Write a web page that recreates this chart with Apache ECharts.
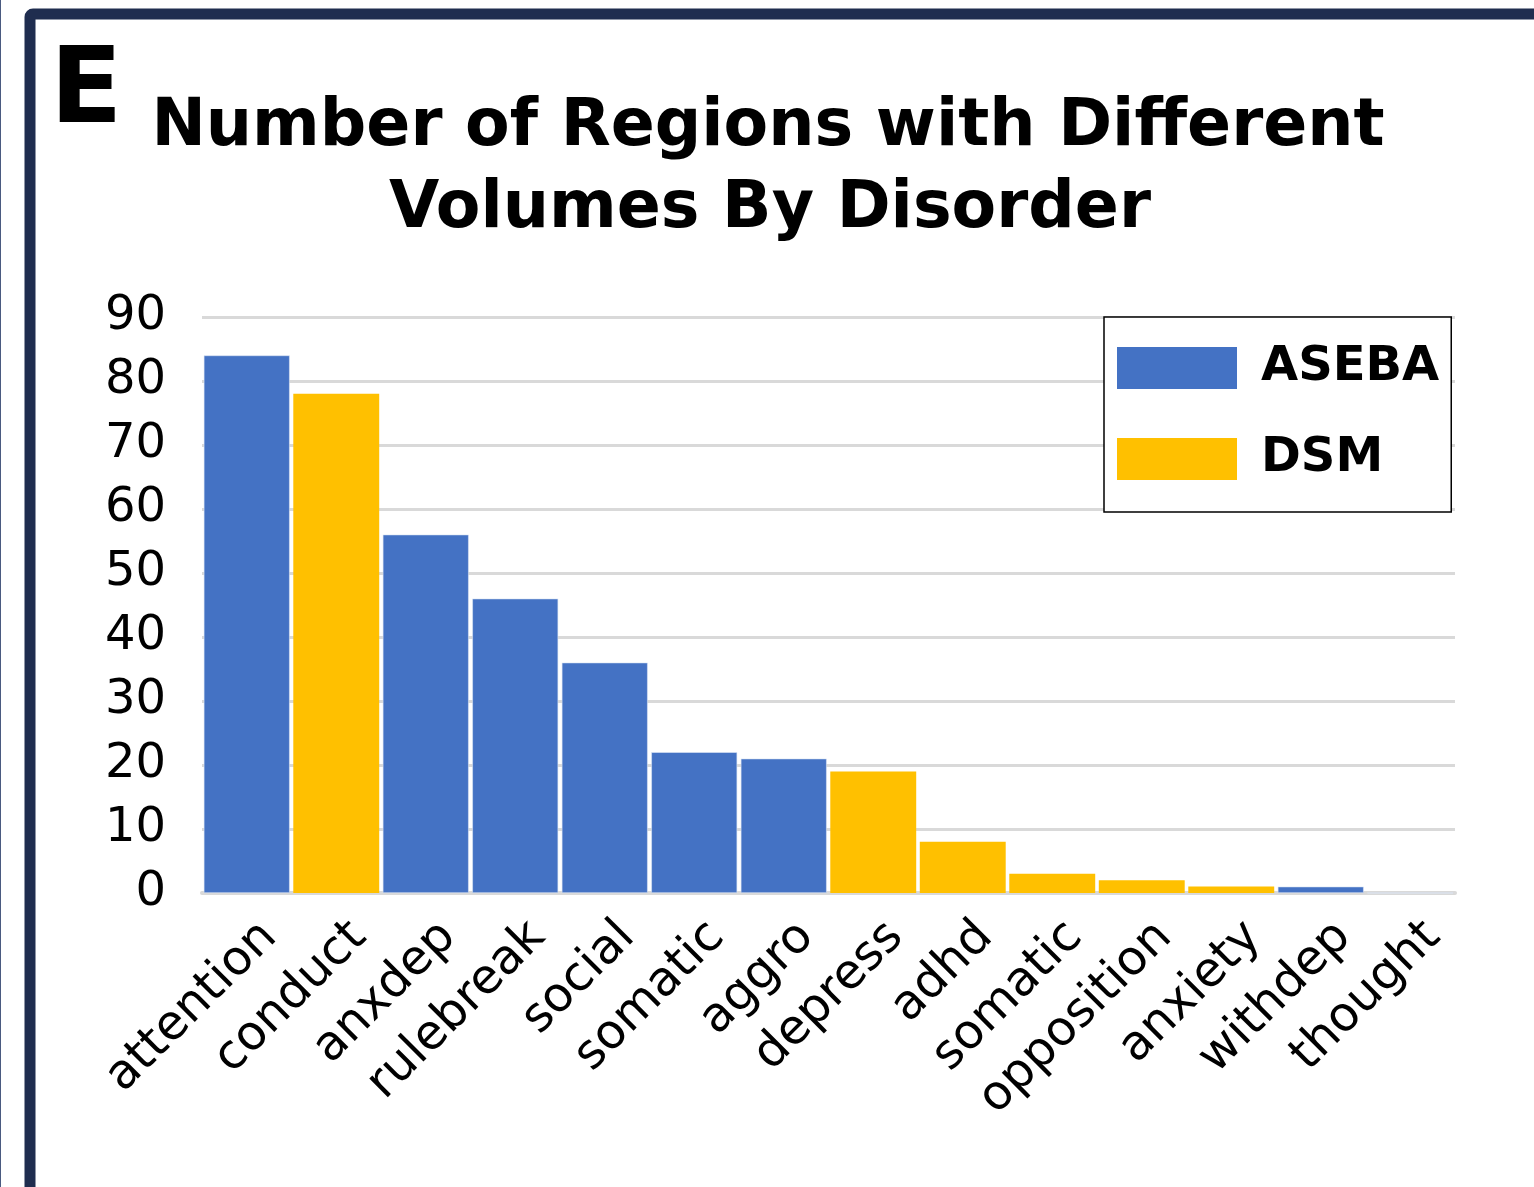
<!DOCTYPE html>
<html><head><meta charset="utf-8">
<script src="https://cdn.jsdelivr.net/npm/echarts@6/dist/echarts.min.js"></script>
<style>html,body{margin:0;padding:0;background:#fff}#c{width:1534px;height:1187px}</style>
</head><body><div id="c"></div>
<script>
const categories = ['attention','conduct','anxdep','rulebreak','social','somatic','aggro','depress','adhd','somatic','opposition','anxiety','withdep','thought'];
const asebaValues = [84, null, 56, 46, 36, 22, 21, null, null, null, null, null, 1, 0];
const dsmValues   = [null, 78, null, null, null, null, null, 19, 8, 3, 2, 1, null, null];
const yTicks = [0, 90, 10];
const titleLines = ['Number of Regions with Different', 'Volumes By Disorder'];
const panelLetter = 'E';

const FONT = 'DejaVu Sans';
const chart = echarts.init(document.getElementById('c'), null, {renderer: 'canvas'});
chart.setOption({
  animation: false,
  backgroundColor: '#fff',
  graphic: [
    {type: 'rect', shape: {x: 0, y: 0, width: 1, height: 1187}, style: {fill: '#4a5a80'}},
    {type: 'rect', shape: {x: 30, y: 14, width: 1520, height: 1200, r: 3}, style: {fill: 'none', stroke: '#1f2d4f', lineWidth: 11}},
    {type: 'text', x: 50, y: 41, style: {text: panelLetter, font: 'bold 106px "DejaVu Sans"', fill: '#000'}},
    {type: 'text', x: 768, y: 161, style: {text: titleLines[0], font: 'bold 65px "DejaVu Sans"', fill: '#000', textAlign: 'center', textVerticalAlign: 'bottom'}},
    {type: 'text', x: 770, y: 243, style: {text: titleLines[1], font: 'bold 65px "DejaVu Sans"', fill: '#000', textAlign: 'center', textVerticalAlign: 'bottom'}}
  ],
  legend: {
    orient: 'vertical', left: 1104, top: 317,
    padding: [27, 12, 29, 13], itemGap: 43, itemWidth: 120, itemHeight: 42,
    icon: 'rect', itemStyle: {borderWidth: 0},
    borderColor: '#000', borderWidth: 1.5, backgroundColor: '#fff',
    textStyle: {fontFamily: FONT, fontWeight: 'bold', fontSize: 48, color: '#000', padding: [0,0,0,19]},
    data: ['ASEBA', 'DSM']
  },
  grid: {left: 202, right: 79, top: 317, bottom: 294, containLabel: false},
  xAxis: {
    type: 'category', data: categories,
    axisLine: {show: true, lineStyle: {color: '#d9d9d9', width: 4}},
    axisTick: {show: false},
    axisLabel: {rotate: 45, interval: 0, fontFamily: FONT, fontSize: 48, color: '#000', margin: 14, verticalAlign: 'top', padding: [8,0,0,0]}
  },
  yAxis: {
    type: 'value', min: yTicks[0], max: yTicks[1], interval: yTicks[2],
    axisLine: {show: false}, axisTick: {show: false},
    axisLabel: {fontFamily: FONT, fontSize: 48, color: '#000', margin: 36},
    splitLine: {lineStyle: {color: '#d9d9d9', width: 3}}
  },
  series: [
    {name: 'ASEBA', type: 'bar', stack: 's', data: asebaValues, barCategoryGap: '4%', itemStyle: {color: '#4472C4', borderColor: '#dce6f5', borderWidth: 0.6}},
    {name: 'DSM', type: 'bar', stack: 's', data: dsmValues, barCategoryGap: '4%', itemStyle: {color: '#FFC000'}}
  ]
});
</script></body></html>
